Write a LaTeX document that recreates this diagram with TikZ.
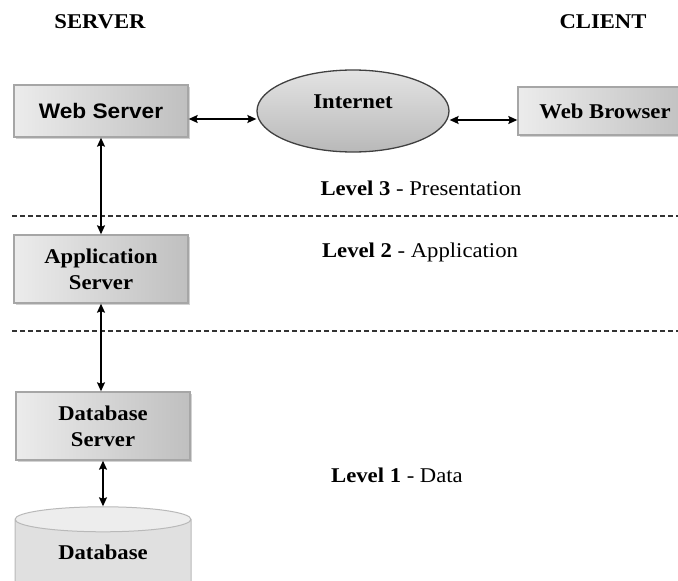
\documentclass[tikz,border=0pt]{standalone}
\usepackage{fontspec}
\setmainfont{Liberation Serif}[FakeStretch=1.08]
\newfontfamily\boxsans{Liberation Sans}[FakeStretch=1.08]
\usepackage{tikz}
\usetikzlibrary{arrows.meta,shapes.geometric,shadows}
\usetikzlibrary{positioning}
\tikzset{
    tier/.style={
           rectangle,
           draw=gray!70,
           left color=gray!15,
           right color=gray!50,
           drop shadow={shadow xshift=2pt,shadow yshift=-2pt,fill=gray!70},
           minimum width=174pt,
           minimum height=68pt,
           align=center,
           font=\fontsize{21}{26}\selectfont\bfseries,
           },
}
\tikzset{
    net/.style={
           ellipse,
           draw=gray!50!black, line width=1.3pt,
           top color=gray!22,
           bottom color=gray!55,
           minimum width=192pt,
           minimum height=82pt,
           },
}
\tikzset{
    store/.style={
           cylinder,
           shape border rotate=90,
           aspect=0.26,
           draw=gray!55,
           line width=1pt,
           cylinder uses custom fill,
           cylinder body fill=gray!24,
           cylinder end fill=gray!14,
           minimum width=176pt,
           minimum height=90pt,
           font=\fontsize{21}{26}\selectfont\bfseries,
           },
    caption/.style={font=\fontsize{21}{26}\selectfont},
    levelline/.style={-,dash pattern=on 5pt off 3pt,gray!40!black,line width=1.3pt},
}

\begin{document}
\begin{tikzpicture}[<->,>={Stealth[length=9pt,width=8pt,inset=1.5pt]},x=1pt,y=-1pt,line width=1.4pt]
 \useasboundingbox (0,0) rectangle (678,581);

 \node[caption,font=\fontsize{21}{26}\selectfont\bfseries] (SRV) at (100,22) {SERVER};
 \node[caption,font=\fontsize{21}{26}\selectfont\bfseries] (CLI) at (603,22) {CLIENT};

 \node[tier,
  minimum height=52pt,
  font=\fontsize{21}{26}\selectfont\boxsans\bfseries] (WS) at (101,111)
 {Web Server};

 \node[net,
  right of=WS,
  node distance=252pt] (NET)
 {};
 \node[caption,font=\fontsize{21}{26}\selectfont\bfseries] (NETtxt) at ([yshift=9pt]NET.center)
 {Internet};

 \node[tier,
  right of=NET,
  node distance=252pt,
  minimum height=48pt] (WB)
 {Web Browser};

 \node[tier,
  below of=WS,
  node distance=158pt] (AS)
 {Application\\Server};

 \node[tier,
  below of=AS,
  node distance=157pt,
  xshift=2pt] (DBS)
 {Database\\Server};

 \node[store,
  below of=DBS,
  node distance=134pt] (DB)
 {\raisebox{16pt}{Database}};

 % tiers
 \node[caption] (L3) at (421,188) {\textbf{Level 3} - Presentation};
 \node[caption] (L2) at (420,252) {\textbf{Level 2} - Application};
 \node[caption] (L1) at (397,475) {\textbf{Level 1} - Data};

 \draw[levelline] (12,216) -- (678,216);
 \draw[levelline] (12,331) -- (678,331);

 \draw ([yshift=-8pt]WS.east) -- ([yshift=-8pt]NET.west);
 \draw ([yshift=-9pt]NET.east) -- ([yshift=-9pt]WB.west);
 \draw (WS) -- (AS);
 \draw (AS.south) -- (AS.south |- DBS.north);
 \draw (DBS) -- (DB);

\end{tikzpicture}
\end{document}
